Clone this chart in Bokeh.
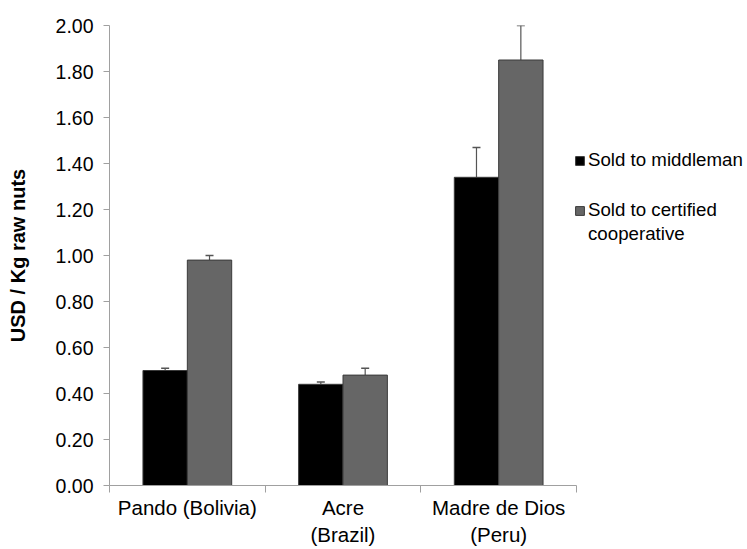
from bokeh.plotting import figure
from bokeh.models import (ColumnDataSource, FixedTicker, Range1d, Whisker, TeeHead,
                          Legend, LegendItem, NumeralTickFormatter)
from bokeh.embed import file_html
from bokeh.resources import INLINE

categories = ["Pando (Bolivia)", "Acre\n(Brazil)", "Madre de Dios\n(Peru)"]
middleman = [0.50, 0.44, 1.34]
middleman_err = [0.01, 0.01, 0.13]
cooperative = [0.98, 0.48, 1.85]
cooperative_err = [0.02, 0.03, 0.15]
series_names = ["Sold to middleman", "Sold to certified cooperative"]
y_ticks = [0.0, 0.2, 0.4, 0.6, 0.8, 1.0, 1.2, 1.4, 1.6, 1.8, 2.0]

FONT = "Liberation Sans"
W, H = 745, 549
LEFT, TOP, BOTTOM = 109, 25, 62
AXIS_PX = 467  # pixel length of the category axis
n = len(categories)
centers = [i + 0.5 for i in range(n)]
bw = 0.285

src_m = ColumnDataSource(dict(
    x=[c - bw / 2 for c in centers], top=middleman,
    upper=[v + e for v, e in zip(middleman, middleman_err)]))
src_c = ColumnDataSource(dict(
    x=[c + bw / 2 for c in centers], top=cooperative,
    upper=[v + e for v, e in zip(cooperative, cooperative_err)]))

x_end = n * (W - LEFT) / AXIS_PX
p = figure(width=W, height=H, output_backend="svg", toolbar_location=None,
           x_range=Range1d(0, x_end), y_range=Range1d(0, 2.0),
           min_border_left=LEFT, min_border_right=0, min_border_top=TOP,
           min_border_bottom=BOTTOM)
p.outline_line_color = None
p.xgrid.visible = False
p.ygrid.visible = False

r_m = p.vbar(x="x", top="top", width=bw, source=src_m, fill_color="#000000",
             line_color="#3a3a3a", line_width=1)
r_c = p.vbar(x="x", top="top", width=bw, source=src_c, fill_color="#666666",
             line_color="#3a3a3a", line_width=1)
# invisible renderer used only for the legend's wrapped second line
r_blank = p.vbar(x=[], top=[], width=bw, fill_alpha=0, line_alpha=0)

for src in (src_m, src_c):
    w = Whisker(source=src, base="x", lower="top", upper="upper",
                line_color="#555555", line_width=1.2,
                upper_head=TeeHead(size=8, line_color="#555555", line_width=1.5),
                lower_head=None)
    p.add_layout(w)

# y axis
p.yaxis.ticker = FixedTicker(ticks=y_ticks)
p.yaxis.formatter = NumeralTickFormatter(format="0.00")
p.yaxis.axis_label = "USD / Kg raw nuts"
p.yaxis.axis_label_text_font = FONT
p.yaxis.axis_label_text_font_style = "bold"
p.yaxis.axis_label_text_font_size = "20px"
p.yaxis.axis_label_text_color = "#000000"
p.yaxis.axis_label_standoff = 24
p.yaxis.major_label_text_font = FONT
p.yaxis.major_label_text_font_size = "19.5px"
p.yaxis.major_label_text_color = "#000000"
p.yaxis.major_label_standoff = 10
p.yaxis.axis_line_color = "#a0a0a0"
p.yaxis.major_tick_line_color = "#a0a0a0"
p.yaxis.major_tick_out = 6
p.yaxis.major_tick_in = 0
p.yaxis.minor_tick_line_color = None

# x axis
p.xaxis.bounds = (0, n)
p.xaxis.ticker = FixedTicker(ticks=centers, minor_ticks=list(range(n + 1)))
p.xaxis.major_label_overrides = {c: lab for c, lab in zip(centers, categories)}
p.xaxis.major_label_text_font = FONT
p.xaxis.major_label_text_font_size = "20.5px"
p.xaxis.major_label_text_color = "#000000"
p.xaxis.major_label_standoff = 3
p.xaxis.axis_line_color = "#a0a0a0"
p.xaxis.major_tick_line_color = None
p.xaxis.major_tick_out = 0
p.xaxis.minor_tick_line_color = "#a0a0a0"
p.xaxis.minor_tick_out = 7
p.xaxis.minor_tick_in = 0

common = dict(orientation="vertical", label_text_font=FONT, label_text_font_size="18.7px",
              label_text_color="#000000", glyph_width=11, glyph_height=11,
              label_standoff=3, padding=0, margin=0, label_height=21,
              border_line_color=None, background_fill_alpha=0)
legend_a = Legend(items=[LegendItem(label=series_names[0], renderers=[r_m])],
                  location=(465, 314), spacing=0, **common)
first, second = series_names[1].rsplit(" ", 1)
legend_b = Legend(items=[LegendItem(label=first, renderers=[r_c]),
                         LegendItem(label=second, renderers=[r_blank])],
                  location=(465, 240), spacing=2, **common)
p.add_layout(legend_a)
p.add_layout(legend_b)

open("out.html", "w").write(file_html(p, INLINE))
